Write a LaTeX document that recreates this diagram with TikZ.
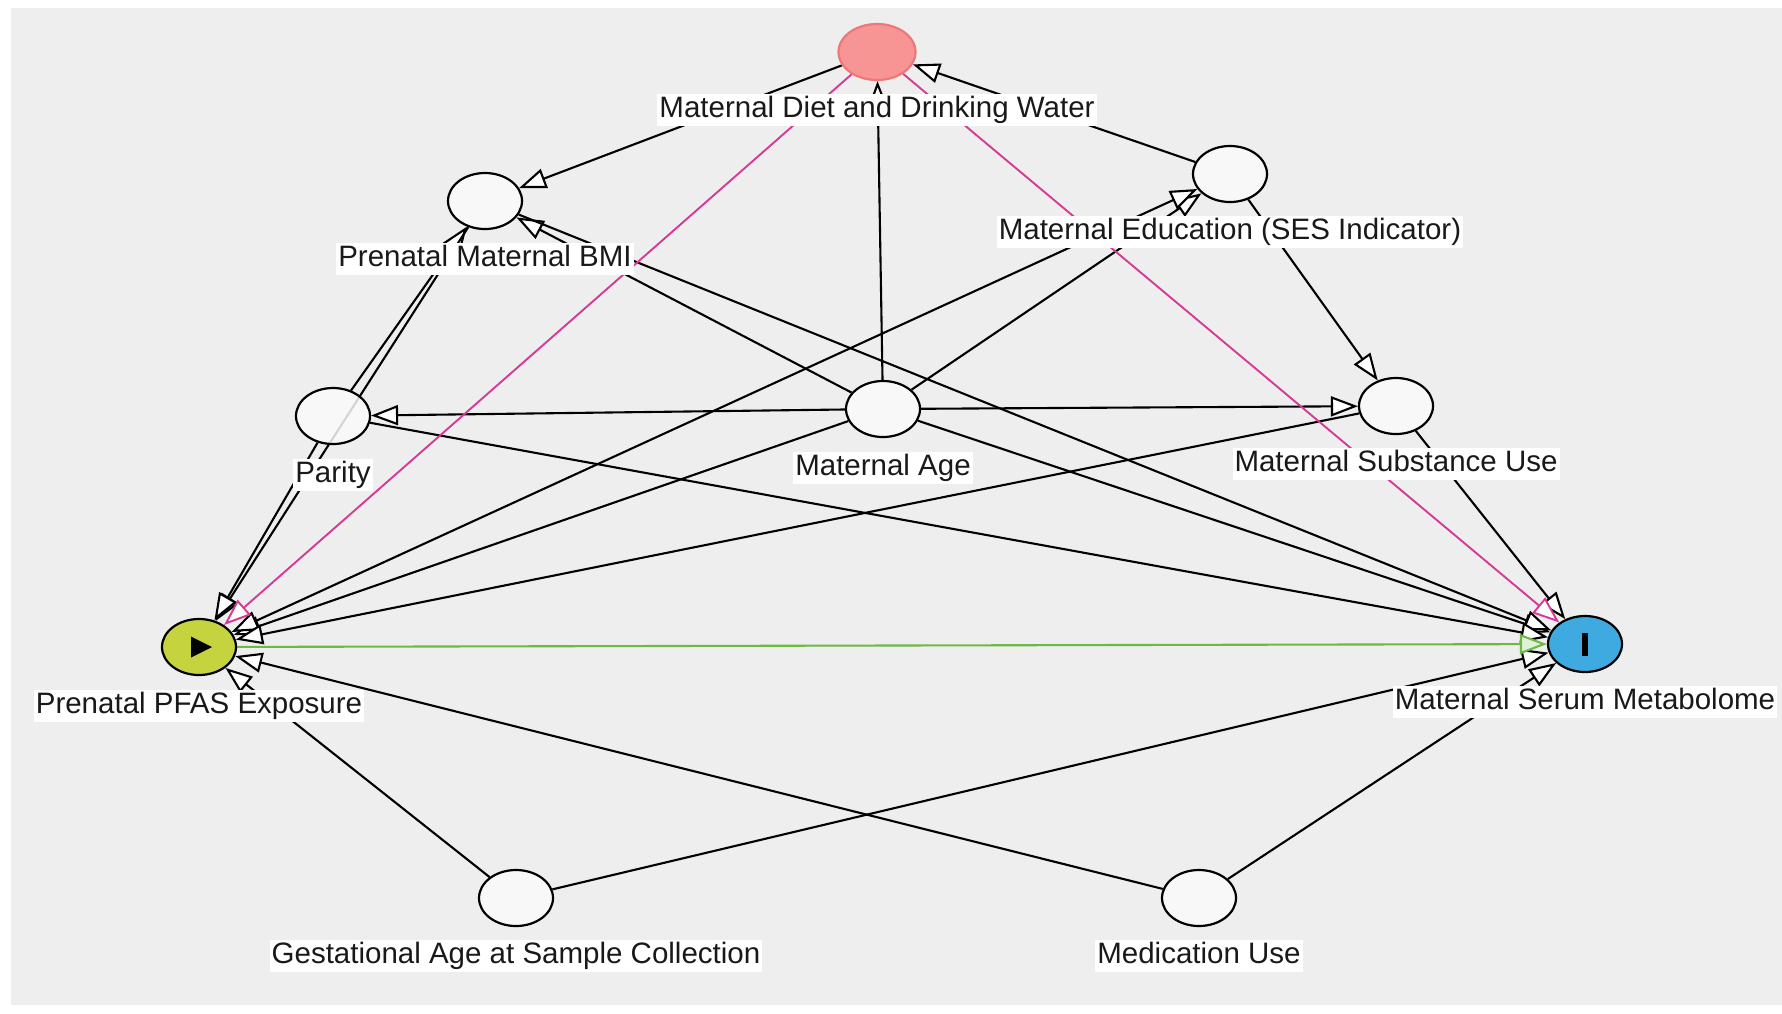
\documentclass[tikz,border=0pt]{standalone}
\usepackage{fontspec}
\setmainfont{Liberation Sans}
\usetikzlibrary{shapes.geometric,arrows.meta}
\pgfdeclarelayer{bg}
\pgfdeclarelayer{edges}
\pgfsetlayers{bg,edges,main}
\definecolor{bggray}{RGB}{238,238,238}
\definecolor{magentaE}{RGB}{212,58,150}
\definecolor{greenE}{RGB}{110,185,70}
\definecolor{expo}{RGB}{196,211,62}
\definecolor{outc}{RGB}{62,170,224}
\definecolor{confd}{RGB}{247,148,148}
\definecolor{confb}{RGB}{236,120,120}
\definecolor{nodefill}{RGB}{250,250,250}
\definecolor{txt}{RGB}{25,25,25}
\begin{document}
\begin{tikzpicture}[x=1pt,y=-1pt,
 var/.style={ellipse, draw=black, line width=2.2pt, fill=nodefill, fill opacity=0.85, text opacity=1, minimum width=74pt, minimum height=56pt, inner sep=0pt},
 lab/.style={fill=white, text=txt, inner xsep=2pt, inner ysep=2pt, text height=22pt, text depth=6.5pt, font=\fontsize{29.5}{32}\selectfont},
 edge/.style={line width=2.1pt, draw=black, -{Triangle[length=27pt,width=20pt,fill=white]}},
 edgeboth/.style={line width=2.1pt, draw=black, {Triangle[length=27pt,width=20pt,fill=white]}-{Triangle[length=27pt,width=20pt,fill=white]}},
 bias/.style={line width=1.9pt, draw=magentaE, -{Triangle[length=27pt,width=20pt,fill=white]}},
 causal/.style={line width=2.1pt, draw=greenE, -{Triangle[length=27pt,width=20pt,fill=greenE!20]}},
]
\begin{pgfonlayer}{bg}
\fill[white] (0,0) rectangle (1782,1013);
\fill[bggray] (11,8) rectangle (1782,1005);
\end{pgfonlayer}

% nodes
\node[var, fill=confd, draw=confb, fill opacity=1, minimum width=77pt] (diet) at (877,52) {};
\node[var] (bmi) at (485,201) {};
\node[var] (edu) at (1230,174) {};
\node[var] (par) at (333,416) {};
\node[var] (age) at (883,409) {};
\node[var] (sub) at (1396,406) {};
\node[var, fill=expo, fill opacity=1] (pfas) at (199,647) {};
\node[var, fill=outc, fill opacity=1] (met) at (1585,644) {};
\node[var] (ges) at (516,898) {};
\node[var] (med) at (1199,898) {};

% markers
\fill[black] (pfas.center) ++(-8,-10.5) -- ++(0,21) -- ++(21,-10.5) -- cycle;
\fill[black] (met.center) ++(-3,-11.5) rectangle ++(6,23);

% labels
\node[lab] (diet-l) at (877,110) {Maternal Diet and Drinking Water};
\node[lab] (bmi-l) at (485,259) {Prenatal Maternal BMI};
\node[lab] (edu-l) at (1230,232) {Maternal Education (SES Indicator)};
\node[lab] (par-l) at (333,475) {Parity};
\node[lab] (age-l) at (883,468) {Maternal Age};
\node[lab] (sub-l) at (1396,464) {Maternal Substance Use};
\node[lab] (pfas-l) at (199,706) {Prenatal PFAS Exposure};
\node[lab] (met-l) at (1585,702) {Maternal Serum Metabolome};
\node[lab] (ges-l) at (516,956) {Gestational Age at Sample Collection};
\node[lab] (med-l) at (1199,956) {Medication Use};

% edges
\begin{pgfonlayer}{edges}
\draw[edge] (diet) -- (bmi);
\draw[edge] (edu) -- (diet);
\draw[edge] (age) -- (diet);
\draw[edge] (age) -- (par);
\draw[edge] (age) -- (sub);
\draw[edge] (age) -- (bmi);
\draw[edge] (age) -- (edu);
\draw[edge] (age) -- (pfas);
\draw[edge] (age) -- (met);
\draw[edge] (edu) -- (sub);
\draw[edgeboth] (edu) -- (pfas);
\draw[edge] (sub) -- (pfas);
\draw[edge] (sub) -- (met);
\draw[edge] (bmi) -- (met);
\draw[edge] (par) -- (met);
\draw[edge] (par) -- (bmi);
\draw[edge] (bmi) -- (pfas);
\draw[edge] (par) -- (pfas);
\draw[edge] (ges) -- (pfas);
\draw[edge] (ges) -- (met);
\draw[edge] (med) -- (pfas);
\draw[edge] (med) -- (met);
\draw[bias] (diet) -- (pfas);
\draw[bias] (diet) -- (met);
\draw[causal] (pfas) -- (met);
\end{pgfonlayer}
\end{tikzpicture}
\end{document}
